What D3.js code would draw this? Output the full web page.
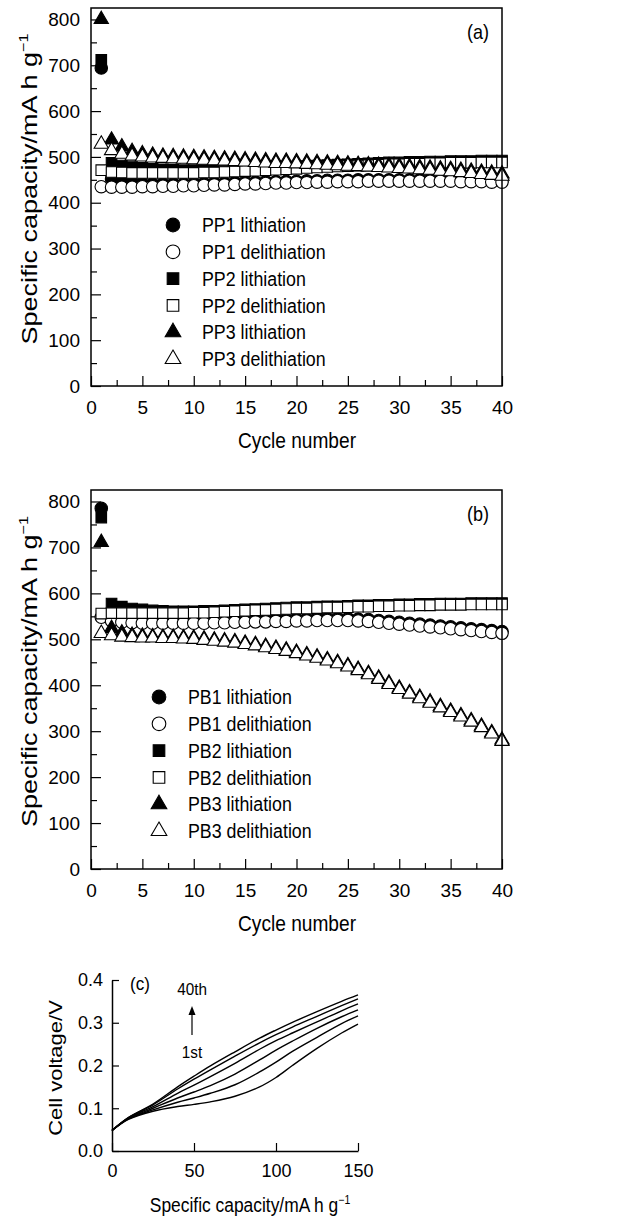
<!DOCTYPE html>
<html>
<head>
<meta charset="utf-8" />
<title>Cycling of PP and PB electrodes</title>
<script src="https://cdn.jsdelivr.net/npm/d3@7"></script>
<style>
  body { margin: 0; background: #fff; }
  svg { font-family: Arial, "Liberation Sans", sans-serif; }
</style>
</head>
<body>
<svg id="chart" width="640" height="1220"></svg>
<script>
// ---- data ----
var cycles = d3.range(1, 41);

var ppNames = ["PP1 lithiation", "PP1 delithiation", "PP2 lithiation", "PP2 delithiation", "PP3 lithiation", "PP3 delithiation"];
var pbNames = ["PB1 lithiation", "PB1 delithiation", "PB2 lithiation", "PB2 delithiation", "PB3 lithiation", "PB3 delithiation"];

var pp1Lith = [694, 452, 446, 443, 442, 441, 441, 441, 441, 442, 442, 443, 443, 444, 445, 445, 446, 446, 447, 447,
               448, 448, 449, 449, 449, 450, 450, 450, 450, 450, 450, 450, 450, 450, 450, 449, 449, 449, 448, 448];
var pp1Delith = [435, 434, 434, 434, 435, 435, 436, 436, 437, 437, 438, 439, 439, 440, 441, 441, 442, 443, 443, 444,
                 444, 445, 445, 446, 446, 446, 447, 447, 447, 447, 447, 447, 447, 447, 447, 446, 446, 446, 445, 445];
var pp2Lith = [712, 487, 481, 478, 476, 474, 473, 472, 471, 471, 471, 471, 472, 473, 474, 475, 476, 477, 478, 479,
               480, 481, 482, 483, 484, 485, 486, 487, 488, 488, 489, 489, 490, 490, 491, 491, 491, 492, 492, 492];
var pp2Delith = [471, 467, 466, 465, 465, 465, 465, 465, 465, 465, 466, 466, 467, 468, 469, 470, 471, 472, 473, 474,
                 476, 477, 478, 479, 480, 481, 482, 483, 484, 484, 485, 485, 486, 486, 487, 487, 487, 488, 488, 488];
var pp3Lith = [800, 537, 522, 512, 507, 504, 502, 501, 500, 499, 498, 497, 496, 495, 494, 493, 492, 491, 491, 490,
               489, 488, 487, 486, 485, 484, 483, 482, 481, 480, 479, 477, 476, 474, 473, 471, 469, 467, 465, 463];
var pp3Delith = [528, 514, 506, 502, 500, 498, 497, 496, 495, 494, 493, 492, 491, 490, 489, 488, 487, 486, 486, 485,
                 484, 483, 482, 481, 480, 479, 478, 477, 476, 475, 474, 472, 471, 469, 468, 466, 464, 462, 460, 458];

var pb1Lith = [785, 548, 542, 540, 539, 539, 539, 539, 539, 539, 539, 540, 540, 541, 541, 542, 542, 543, 543, 544,
               544, 545, 545, 545, 545, 544, 543, 541, 539, 537, 535, 533, 531, 529, 527, 525, 523, 521, 519, 517];
var pb1Delith = [548, 540, 537, 536, 535, 535, 535, 535, 535, 535, 535, 536, 536, 537, 537, 538, 538, 539, 539, 540,
                 540, 541, 541, 541, 541, 540, 539, 537, 535, 533, 531, 529, 527, 525, 523, 521, 519, 517, 515, 513];
var pb2Lith = [765, 578, 571, 567, 565, 563, 562, 561, 561, 561, 562, 562, 563, 564, 565, 566, 567, 568, 569, 570,
               570, 571, 572, 572, 573, 574, 574, 575, 575, 576, 576, 577, 577, 578, 578, 578, 579, 579, 579, 579];
var pb2Delith = [556, 557, 557, 557, 557, 557, 557, 557, 557, 558, 558, 559, 560, 561, 562, 563, 564, 565, 566, 567,
                 567, 568, 569, 569, 570, 571, 571, 572, 572, 573, 573, 574, 574, 575, 575, 575, 576, 576, 576, 576];
var pb3Lith = [711, 524, 514, 509, 507, 506, 505, 505, 504, 503, 501, 499, 497, 495, 492, 489, 485, 481, 477, 472,
               467, 462, 456, 450, 443, 435, 426, 416, 405, 394, 384, 374, 364, 354, 344, 334, 323, 311, 297, 281];
var pb3Delith = [513, 508, 505, 504, 503, 503, 502, 502, 501, 500, 498, 496, 494, 492, 489, 486, 482, 478, 474, 469,
                 464, 459, 453, 447, 440, 432, 423, 413, 402, 391, 381, 371, 361, 351, 341, 331, 320, 308, 294, 278];

// panel (c): voltage profiles, 1st (bottom) to 40th (top)
var capPoints = [0, 10, 25, 40, 50, 60, 75, 90, 100, 110, 125, 140, 150];
var voltCurves = [
  [0.048, 0.074, 0.093, 0.104, 0.109, 0.115, 0.128, 0.150, 0.172, 0.200, 0.240, 0.276, 0.297],
  [0.048, 0.075, 0.096, 0.114, 0.124, 0.135, 0.155, 0.185, 0.208, 0.233, 0.266, 0.298, 0.316],
  [0.048, 0.076, 0.100, 0.124, 0.138, 0.153, 0.180, 0.213, 0.236, 0.257, 0.287, 0.314, 0.330],
  [0.048, 0.077, 0.104, 0.135, 0.154, 0.174, 0.205, 0.238, 0.258, 0.276, 0.302, 0.328, 0.344],
  [0.048, 0.078, 0.108, 0.145, 0.168, 0.190, 0.222, 0.253, 0.272, 0.290, 0.315, 0.340, 0.356],
  [0.048, 0.078, 0.110, 0.150, 0.175, 0.199, 0.232, 0.264, 0.283, 0.301, 0.326, 0.350, 0.365]
];

var cycleTicks = [0, 5, 10, 15, 20, 25, 30, 35, 40];
var capacityTicks = [0, 100, 200, 300, 400, 500, 600, 700, 800];
var capTicksC = [0, 50, 100, 150];
var voltTicks = [0, 0.1, 0.2, 0.3, 0.4];

// ---- drawing ----
var svg = d3.select("#chart");
var symbolTypes = [d3.symbolCircle, d3.symbolCircle, d3.symbolSquare, d3.symbolSquare, d3.symbolTriangle, d3.symbolTriangle];
var symbolSizes = [122, 122, 112, 112, 88, 88];
var filled = [true, false, true, false, true, false];

function styleAxis(g, size) {
  g.attr("font-family", null).attr("font-size", size);
  g.selectAll("line").attr("stroke", "#000").attr("stroke-width", 1.2);
  g.selectAll("text").attr("fill", "#000");
}

// the source figure is squeezed sideways, so text is narrowed with scale()
function narrowText(g, x, y, size, squeeze, main, sup) {
  var t = g.append("text")
    .attr("transform", "translate(" + x + "," + y + ") scale(" + squeeze + ",1)")
    .attr("text-anchor", "middle")
    .attr("font-size", size);
  t.append("tspan").text(main);
  if (sup) t.append("tspan").attr("dy", -size * 0.42).attr("font-size", size * 0.6).text(sup);
}

function yTitle(g, x, y, size, squeeze, main, sup) {
  var t = g.append("text")
    .attr("transform", "translate(" + x + "," + y + ") scale(" + squeeze + ",1) rotate(-90)")
    .attr("text-anchor", "middle")
    .attr("font-size", size);
  t.append("tspan").text(main);
  if (sup) t.append("tspan").attr("dy", -size * 0.42).attr("font-size", size * 0.6).text(sup);
}

function capacityPanel(top, bottom, label, series, names, legX, legY) {
  var x = d3.scaleLinear().domain([0, 40]).range([91, 502]);
  var y = d3.scaleLinear().domain([0, 825]).range([bottom, top]);
  var g = svg.append("g");

  g.append("g").attr("transform", "translate(0," + bottom + ")")
    .call(d3.axisBottom(x).tickValues(cycleTicks).tickSize(-10).tickPadding(15))
    .call(function (a) { styleAxis(a, 19); a.select(".domain").remove(); });
  g.append("g").attr("transform", "translate(0," + bottom + ")")
    .call(d3.axisBottom(x).tickValues(d3.range(2.5, 40, 5)).tickSize(-6).tickFormat(""))
    .call(function (a) { styleAxis(a, 19); a.select(".domain").remove(); });
  g.append("g").attr("transform", "translate(91,0)")
    .call(d3.axisLeft(y).tickValues(capacityTicks).tickSize(-10).tickPadding(11))
    .call(function (a) { styleAxis(a, 19); a.select(".domain").remove(); });
  g.append("g").attr("transform", "translate(91,0)")
    .call(d3.axisLeft(y).tickValues(d3.range(50, 800, 100)).tickSize(-6).tickFormat(""))
    .call(function (a) { styleAxis(a, 19); a.select(".domain").remove(); });

  // points, series by series so later open markers sit on top
  series.forEach(function (vals, i) {
    g.append("g").selectAll("path")
      .data(vals)
      .enter()
      .append("path")
      .attr("transform", function (d, j) { return "translate(" + x(cycles[j]) + "," + y(d) + ")"; })
      .attr("d", d3.symbol().type(symbolTypes[i]).size(symbolSizes[i]))
      .attr("fill", filled[i] ? "#000" : "#fff")
      .attr("stroke", "#000")
      .attr("stroke-width", 1.1);
  });

  g.append("rect")
    .attr("x", 91).attr("y", top)
    .attr("width", 411).attr("height", bottom - top)
    .attr("fill", "none").attr("stroke", "#000").attr("stroke-width", 1.5);

  // legend
  var leg = g.append("g").selectAll("g")
    .data(names)
    .enter()
    .append("g")
    .attr("transform", function (d, i) { return "translate(" + legX + "," + (legY + i * 26.8) + ")"; });
  leg.append("path")
    .attr("d", function (d, i) { return d3.symbol().type(symbolTypes[i]).size(symbolSizes[i] * 1.2)(); })
    .attr("fill", function (d, i) { return filled[i] ? "#000" : "#fff"; })
    .attr("stroke", "#000").attr("stroke-width", 1.1);
  leg.append("text")
    .attr("transform", "translate(29,0) scale(0.89,1)")
    .attr("dy", "0.36em")
    .attr("font-size", 20)
    .text(function (d) { return d; });

  narrowText(g, 478, top + 31, 20, 0.9, label);
  narrowText(g, 297, bottom + 62, 22, 0.87, "Cycle number");
  yTitle(g, 37, (top + bottom) / 2 - 8, 27, 0.8, "Specific capacity/mA h g", "\u22121");
}

capacityPanel(8, 386, "(a)", [pp1Lith, pp1Delith, pp2Lith, pp2Delith, pp3Lith, pp3Delith], ppNames, 173, 225);
capacityPanel(490, 869, "(b)", [pb1Lith, pb1Delith, pb2Lith, pb2Delith, pb3Lith, pb3Delith], pbNames, 159, 697);

// ---- panel (c) ----
var xc = d3.scaleLinear().domain([0, 150]).range([112, 358]);
var yc = d3.scaleLinear().domain([0, 0.4]).range([1151, 980]);
var gc = svg.append("g");

gc.append("g").attr("transform", "translate(0,1151)")
  .call(d3.axisBottom(xc).tickValues(capTicksC).tickSize(-8).tickSizeOuter(0).tickPadding(13))
  .call(function (a) {
    styleAxis(a, 18);
    a.select(".domain").attr("stroke", "#000").attr("stroke-width", 1.5);
  });
gc.append("g").attr("transform", "translate(112,0)")
  .call(d3.axisLeft(yc).tickValues(voltTicks).tickSize(-7).tickSizeOuter(0).tickPadding(9).tickFormat(d3.format(".1f")))
  .call(function (a) {
    styleAxis(a, 18);
    a.select(".domain").attr("stroke", "#000").attr("stroke-width", 1.5);
  });

var line = d3.line()
  .x(function (d, i) { return xc(capPoints[i]); })
  .y(function (d) { return yc(d); })
  .curve(d3.curveCatmullRom.alpha(0.5));

gc.append("g").selectAll("path")
  .data(voltCurves)
  .enter()
  .append("path")
  .attr("d", line)
  .attr("fill", "none")
  .attr("stroke", "#000")
  .attr("stroke-width", 1.4);

narrowText(gc, 140, 990, 19, 0.9, "(c)");
narrowText(gc, 192, 995, 17, 0.9, "40th");
narrowText(gc, 192, 1058, 17, 0.9, "1st");
gc.append("line").attr("x1", 192).attr("x2", 192).attr("y1", 1035).attr("y2", 1014)
  .attr("stroke", "#000").attr("stroke-width", 1.2);
gc.append("path").attr("d", "M192,1006 L188.5,1015 L195.5,1015 Z").attr("fill", "#000");

narrowText(gc, 250, 1212, 20, 0.87, "Specific capacity/mA h g", "\u22121");
yTitle(gc, 62, 1068, 22, 0.85, "Cell voltage/V", null);
</script>
</body>
</html>
